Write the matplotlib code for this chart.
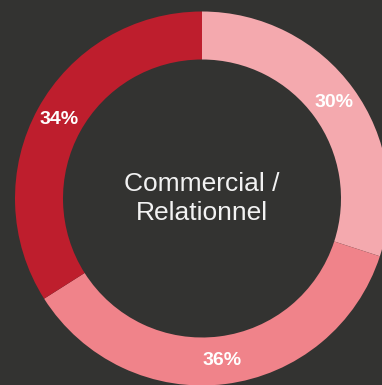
import matplotlib
matplotlib.use("Agg")
import matplotlib.pyplot as plt
import numpy as np

labels = ["A", "B", "C"]
values = [30, 36, 34]
colors = ["#F4A9AE", "#F0838A", "#BE1E2D"]
center_title = "Commercial /\nRelationnel"

plt.rcParams["font.family"] = ["Liberation Sans", "DejaVu Sans"]

W, H = 382, 385
fig = plt.figure(figsize=(W / 100, H / 100), dpi=100)
fig.patch.set_facecolor("#333331")

# Outer radius 187 px, centre at (202, 198.5) from the top-left corner
R = 187
cx, cy = 202, H - 198.5
ax = fig.add_axes([(cx - R) / W, (cy - R) / H, 2 * R / W, 2 * R / H])
ax.set_facecolor("none")
ax.axis("off")

ring = 48 / R
ax.pie(values, colors=colors, startangle=90, counterclock=False,
       radius=1, wedgeprops=dict(width=ring, linewidth=0), normalize=True)
ax.set_xlim(-1, 1)
ax.set_ylim(-1, 1)
ax.set_aspect("auto")

total = sum(values)
start = 90.0
r_lab = 1 - ring / 2
for v in values:
    span = 360.0 * v / total
    mid = np.deg2rad(start - span / 2)
    ax.text(r_lab * np.cos(mid), r_lab * np.sin(mid), f"{v}%",
            ha="center", va="center", color="white", fontsize=14,
            fontweight="bold")
    start -= span

ax.text(0, 0, center_title, ha="center", va="center", color="#F2F2F2",
        fontsize=19, linespacing=1.22)

fig.savefig("out.png", dpi=100, facecolor=fig.get_facecolor())
